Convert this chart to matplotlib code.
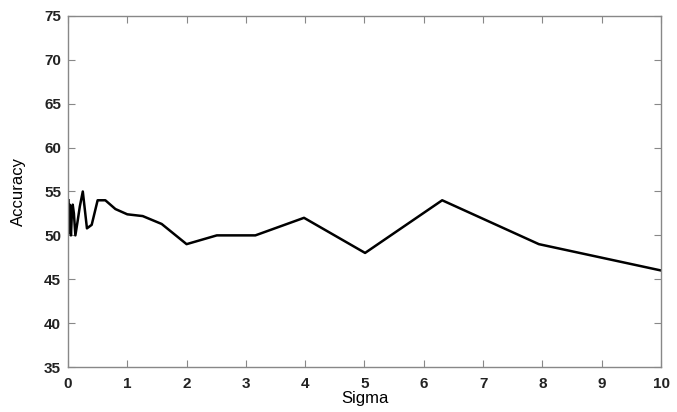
import matplotlib
matplotlib.use("Agg")
import matplotlib.pyplot as plt

sigma = [0.01, 0.02, 0.03, 0.05, 0.063, 0.08, 0.1, 0.125, 0.16, 0.2, 0.25,
         0.32, 0.4, 0.5, 0.63, 0.8, 1.0, 1.26, 1.58, 2.0, 2.51, 3.16, 3.98,
         5.01, 6.31, 7.94, 10.0]
accuracy = [54.0, 50.3, 53.5, 50.0, 52.0, 53.5, 52.5, 50.0, 51.5, 53.3, 55.0,
            50.8, 51.2, 54.0, 54.0, 53.0, 52.4, 52.2, 51.3, 49.0, 50.0, 50.0,
            52.0, 48.0, 54.0, 49.0, 46.0]

xticks = [0, 1, 2, 3, 4, 5, 6, 7, 8, 9, 10]
yticks = [35, 40, 45, 50, 55, 60, 65, 70, 75]

plt.rcParams['font.family'] = ['Liberation Sans', 'DejaVu Sans']

fig = plt.figure(figsize=(6.77, 4.12), dpi=100)
ax = fig.add_axes([0.1004, 0.1092, 0.876, 0.852])
ax.plot(sigma, accuracy, color='black', linewidth=1.8)
ax.set_xlim(0, 10)
ax.set_ylim(35, 75)
ax.set_xticks(xticks)
ax.set_yticks(yticks)
ax.tick_params(direction='in', length=5, width=0.8, color='#888888',
               top=True, right=True, labelsize=11)
ax.tick_params(axis='x', pad=7)
ax.tick_params(axis='y', pad=5)
for lbl in ax.get_xticklabels() + ax.get_yticklabels():
    lbl.set_fontweight('bold')
    lbl.set_color('#222222')
for s in ax.spines.values():
    s.set_color('#888888')
    s.set_linewidth(1.0)
ax.set_xlabel('Sigma', fontsize=12, labelpad=0)
ax.set_ylabel('Accuracy', fontsize=12, labelpad=13)
fig.savefig('out.png', dpi=100)
